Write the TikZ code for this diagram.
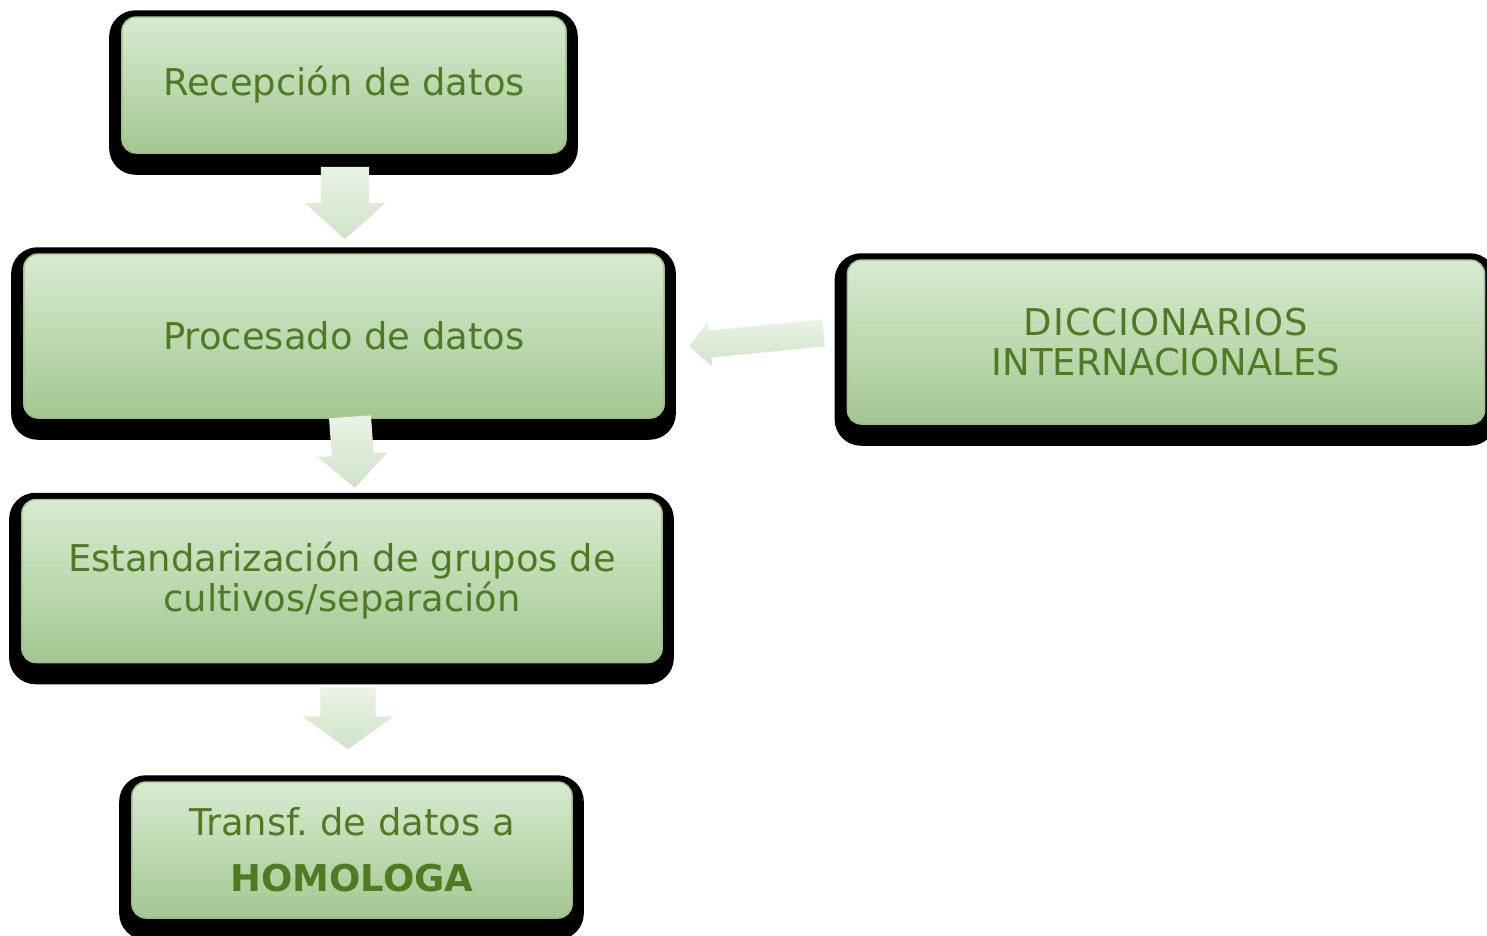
\documentclass[tikz,border=0pt]{standalone}
\usepackage{fontspec}
\setmainfont{DejaVu Sans}
\usetikzlibrary{calc,backgrounds}

\definecolor{boxtop}{HTML}{D8EBD1}
\definecolor{boxbot}{HTML}{A3C791}
\definecolor{boxedge}{HTML}{9DBE8C}
\definecolor{arrtop}{HTML}{E9F3E6}
\definecolor{arrbot}{HTML}{CFE3C7}
\definecolor{txtgreen}{HTML}{4E7B22}

\tikzset{
  paso/.style={rounded corners=4pt, top color=boxtop, bottom color=boxbot,
    draw=boxedge, thin, text=txtgreen, align=center, inner sep=0pt,
    font=\fontsize{10.5}{11.4}\selectfont},
  sombra/.style={fill=black, rounded corners=7.5pt},
  flecha/.style={top color=arrtop, bottom color=arrbot},
}

% block arrow: tail, tip, shaft half width, head half width, head length
\newcommand{\flechabloque}[5]{%
  \coordinate (fb-h) at ($(#2)!#5!(#1)$);
  \shade[flecha] ($(#1)!#3!90:(#2)$) -- ($(fb-h)!#3!90:(#2)$)
    -- ($(fb-h)!#4!90:(#2)$) -- (#2) -- ($(fb-h)!#4!-90:(#2)$)
    -- ($(fb-h)!#3!-90:(#2)$) -- ($(#1)!#3!-90:(#2)$) -- cycle;}

\begin{document}
\frenchspacing
\begin{tikzpicture}[x=0.01cm, y=-0.01cm]
\useasboundingbox (0,0) rectangle (1487,935);

\node[paso, minimum width=4.44cm, minimum height=1.36cm] (rec) at (344,85) {Recepción de datos};
\node[paso, minimum width=6.40cm, minimum height=1.64cm] (proc) at (344,336) {Procesado de datos};
\node[paso, minimum width=6.40cm, minimum height=1.63cm] (est) at (342,581) {Estandarización de grupos de\\cultivos/separación};
\node[paso, minimum width=4.40cm, minimum height=1.36cm] (trans) at (352,850) {Transf. de datos a\\[4.6pt]\textbf{HOMOLOGA}};
\node[paso, minimum width=6.37cm, minimum height=1.64cm] (dic) at (1166,342) {\addfontfeatures{LetterSpace=3}DICCIONARIOS\\INTERNACIONALES};

% black frames behind the boxes
\begin{scope}[on background layer]
  \foreach \n in {rec,proc,est,trans,dic}
    \fill[sombra] ($(\n.south west)+(-12,21)$) rectangle ($(\n.north east)+(11,-6)$);
\end{scope}

% arrows
\coordinate (a1) at ($(rec.south)+(1,13)$);
\coordinate (b1) at ($(proc.north)+(1,-14)$);
\flechabloque{a1}{b1}{0.24cm}{0.40cm}{0.36cm}
\coordinate (a2) at ($(proc.south)+(6,-2)$);
\coordinate (b2) at ($(est.north)+(13,-11)$);
\flechabloque{a2}{b2}{0.21cm}{0.35cm}{0.33cm}
\coordinate (a3) at ($(est.south)+(6,24)$);
\coordinate (b3) at ($(trans.north)+(-4,-32)$);
\flechabloque{a3}{b3}{0.275cm}{0.46cm}{0.33cm}
\coordinate (a4) at ($(dic.west)+(-23,-9)$);
\coordinate (b4) at ($(proc.east)+(24,10)$);
\flechabloque{a4}{b4}{0.135cm}{0.22cm}{0.21cm}
\end{tikzpicture}
\end{document}
